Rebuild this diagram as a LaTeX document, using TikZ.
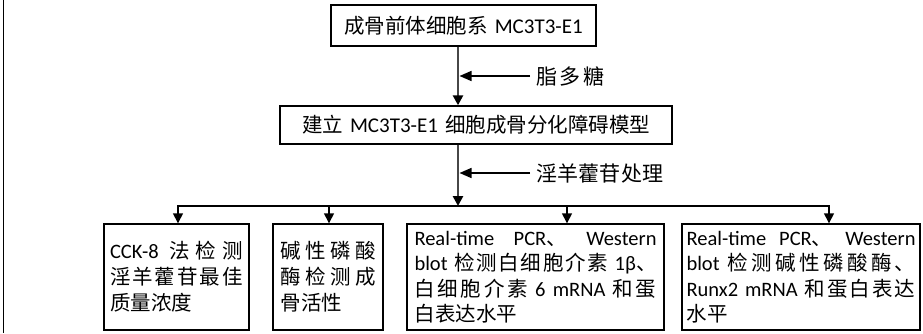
\documentclass[tikz,border=0pt]{standalone}
\usepackage{fontspec}
\setmainfont{Carlito}
\newfontfamily\cjkfont{Noto Sans CJK SC}
\usetikzlibrary{arrows.meta}
\newcommand\zhsz{20.5}
\newcommand\zh[1]{{\cjkfont\fontsize{\zhsz}{\zhsz}\selectfont #1}}
\def\zsEnd{}
\newcommand\zs[1]{{\cjkfont\fontsize{\zhsz}{\zhsz}\selectfont\zsB#1\zsEnd}}
\def\zsB#1{#1\zsA}
\def\zsA#1{\ifx#1\zsEnd\else\hfil#1\expandafter\zsA\fi}
\newcommand\jline[1]{\hbox to \linewidth{#1}}
\newcommand\nline[1]{\hbox{#1}}
\newcommand\toptext{\fontsize{21}{24}\selectfont\def\zhsz{20.5}}
\newcommand\labtext{\fontsize{21}{24}\selectfont\def\zhsz{21}}
\newcommand\bottext{\fontsize{20.5}{26}\selectfont\def\zhsz{20.5}}
\newcommand\txtbox[4]{\raisebox{#4}{\parbox{#1}{\bottext\baselineskip=#2\relax #3}}}
\begin{document}
\begin{tikzpicture}[x=1pt,y=-1pt,
  box/.style={draw=black, line width=1.4pt, inner sep=0pt},
  tipA/.style={-{Triangle[width=10pt,length=10pt,color=black]}},
  mainarrow/.style={draw=black!72, line width=2.6pt, tipA},
  sidearrow/.style={draw=black, line width=1.5pt, -{Triangle[width=10pt,length=12pt]}},
  busline/.style={draw=black, line width=1.4pt},
  brancharrow/.style={draw=black, line width=1.4pt, tipA},
  lab/.style={anchor=west, inner sep=0pt, font=\labtext}]
\useasboundingbox (0,0) rectangle (923,333);
\draw[line width=1.3pt] (3.3,0) -- (3.3,333);

\node[box, minimum width=265pt, minimum height=41pt, font=\toptext] (n1) at (463.5,25.5)
  {\zh{成骨前体细胞系}\hspace{7pt}MC3T3-E1};
\node[box, minimum width=392pt, minimum height=38pt, font=\toptext] (n2) at (476,125)
  {\zh{建立}\hspace{7pt}MC3T3-E1\hspace{7pt}\zh{细胞成骨分化障碍模型}};

\node[box, minimum width=145pt, minimum height=106pt] (A) at (176.5,277)
  {\txtbox{133pt}{26pt}{%
   \jline{CCK-8\ \hfil\zs{法检测}}
   \jline{\zs{淫羊藿苷最佳}}
   \nline{\zs{质量浓度}}}{0pt}};
\node[box, minimum width=110pt, minimum height=106pt] (B) at (328,277)
  {\txtbox{95pt}{26pt}{%
   \jline{\zs{碱性磷酸}}
   \jline{\zs{酶检测成}}
   \nline{\zs{骨活性}}}{0pt}};
\node[box, minimum width=257pt, minimum height=106pt] (C) at (535.5,277)
  {\txtbox{242pt}{25.5pt}{%
   \jline{Real-time\hfil PCR\zh{、}\hfil Western}
   \jline{blot\ \hfil\zs{检测白细胞介素}\hfil\ 1β\zh{、}}
   \jline{\zs{白细胞介素}\hfil\ 6\ \hfil mRNA\ \hfil\zs{和蛋}}
   \nline{\zs{白表达水平}}}{-2pt}};
\node[box, minimum width=238pt, minimum height=106pt] (D) at (801,277)
  {\txtbox{229pt}{25.5pt}{%
   \jline{Real-time\hfil PCR\zh{、}\hfil Western}
   \jline{blot\ \hfil\zs{检测碱性磷酸酶、}}
   \jline{Runx2\ \hfil mRNA\ \hfil\zs{和蛋白表达}}
   \nline{\zs{水平}}}{-2pt}};

\coordinate (vx) at (458,0);
\coordinate (bus) at (458,206);
\coordinate (s1) at (530,76);
\coordinate (s2) at (530,173);
\coordinate (b1) at (178,206);
\coordinate (b2) at (329,206);
\coordinate (b3) at (567,206);
\coordinate (b4) at (829,206);

\draw[mainarrow] (n1.south -| vx) -- (n2.north -| vx);
\draw[mainarrow] (n2.south -| vx) -- (bus);
\draw[sidearrow] (s1) -- ([xshift=1.5pt]s1 -| vx);
\draw[sidearrow] (s2) -- ([xshift=1.5pt]s2 -| vx);
\node[lab] (l1) at ([xshift=6pt]s1) {\hbox to 68pt{\zs{脂多糖}}};
\node[lab] (l2) at ([xshift=6pt]s2) {\hbox to 127pt{\zs{淫羊藿苷处理}}};

\draw[busline] ([xshift=-0.7pt]b1) -- ([xshift=0.7pt]b4);
\draw[brancharrow] (b1) -- (b1 |- A.north);
\draw[brancharrow] (b2) -- (b2 |- B.north);
\draw[brancharrow] (b3) -- (b3 |- C.north);
\draw[brancharrow] (b4) -- (b4 |- D.north);
\end{tikzpicture}
\end{document}
